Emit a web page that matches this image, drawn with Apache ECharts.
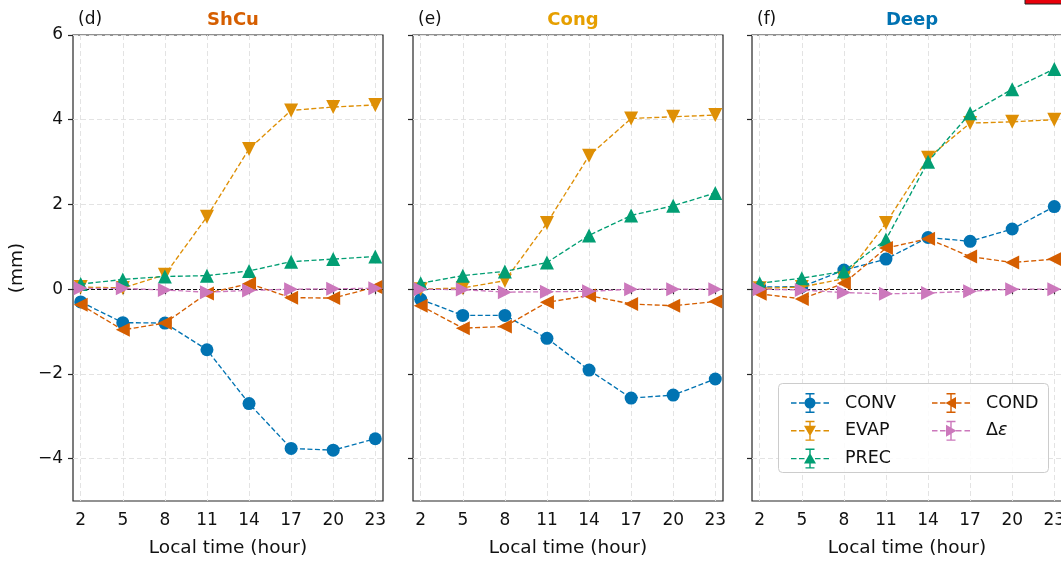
<!DOCTYPE html>
<html><head><meta charset="utf-8">
<script src="https://cdn.jsdelivr.net/npm/echarts@6/dist/echarts.min.js"></script>
<style>html,body{margin:0;padding:0;background:#fff}#c{width:1061px;height:562px}</style>
</head><body><div id="c"></div>
<script>
const hours = [2, 5, 8, 11, 14, 17, 20, 23];
const xTicks = [2, 5, 8, 11, 14, 17, 20, 23];
const yTicks = [-4, -2, 0, 2, 4, 6];
const seriesNames = ['CONV', 'EVAP', 'PREC', 'COND', 'Δε'];
const panelTitles = ['ShCu', 'Cong', 'Deep'];
const panelLetters = ['(d)', '(e)', '(f)'];

const shcuConv = [-0.30, -0.79, -0.80, -1.43, -2.70, -3.76, -3.80, -3.53];
const shcuEvap = [0.05, 0.03, 0.34, 1.71, 3.31, 4.22, 4.30, 4.35];
const shcuPrec = [0.12, 0.23, 0.30, 0.32, 0.43, 0.65, 0.71, 0.77];
const shcuCond = [-0.37, -0.96, -0.80, -0.10, 0.13, -0.20, -0.21, 0.05];
const shcuDe   = [0.02, 0.02, -0.02, -0.07, -0.03, 0.00, 0.01, 0.02];

const congConv = [-0.24, -0.62, -0.62, -1.16, -1.91, -2.57, -2.50, -2.12];
const congEvap = [0.00, 0.03, 0.20, 1.56, 3.15, 4.03, 4.07, 4.11];
const congPrec = [0.14, 0.32, 0.42, 0.63, 1.27, 1.74, 1.97, 2.27];
const congCond = [-0.39, -0.92, -0.88, -0.31, -0.15, -0.35, -0.39, -0.29];
const congDe   = [0.00, -0.01, -0.07, -0.06, -0.05, 0.00, 0.00, 0.00];

const deepConv = [0.05, 0.06, 0.45, 0.71, 1.22, 1.13, 1.42, 1.95];
const deepEvap = [0.02, 0.05, 0.25, 1.56, 3.10, 3.92, 3.95, 4.00];
const deepPrec = [0.14, 0.26, 0.42, 1.17, 3.01, 4.15, 4.72, 5.20];
const deepCond = [-0.11, -0.23, 0.14, 0.97, 1.19, 0.77, 0.63, 0.71];
const deepDe   = [0.00, -0.02, -0.08, -0.11, -0.09, -0.05, 0.00, 0.00];

const panels = [
  [shcuConv, shcuEvap, shcuPrec, shcuCond, shcuDe],
  [congConv, congEvap, congPrec, congCond, congDe],
  [deepConv, deepEvap, deepPrec, deepCond, deepDe]
];

const colors = ['#0173b2', '#de8f05', '#029e73', '#d55e00', '#cc78bc'];
const titleColors = ['#d55e00', '#e69f00', '#0072b2'];
const symbols = ['circle', 'triangle', 'triangle', 'triangle', 'triangle'];
const rotates = [0, 180, 0, 90, -90];
const sizes = [13, 14, 14, 14, 14];
const FONT = 'DejaVu Sans';
const TXT = '#111';

const lefts = [73, 413, 752];
const W = 310, TOP = 35, H = 466;

function rect(x0, y0, x1, y1) { return `M${x0} ${y0}H${x1}V${y1}H${x0}Z`; }
function iconPath(kind) {
  let p = '';
  [[0, 5.5], [8, 13.5], [16, 21.5], [24, 29.5], [32.5, 38]].forEach(d => { p += rect(d[0], 9.3, d[1], 10.7); });
  p += rect(18.3, 0, 19.7, 20) + rect(14.5, 0, 23.5, 1.4) + rect(14.5, 18.6, 23.5, 20);
  const cx = 19, cy = 10;
  if (kind === 0) { const r = 5.5; p += `M${cx - r} ${cy}A${r} ${r} 0 1 1 ${cx + r} ${cy}A${r} ${r} 0 1 1 ${cx - r} ${cy}Z`; }
  if (kind === 1) p += `M${cx - 6} ${cy - 5}L${cx + 6} ${cy - 5}L${cx} ${cy + 5.5}Z`;
  if (kind === 2) p += `M${cx} ${cy - 5.5}L${cx + 6} ${cy + 5}L${cx - 6} ${cy + 5}Z`;
  if (kind === 3) p += `M${cx - 5.5} ${cy}L${cx + 5} ${cy - 6}L${cx + 5} ${cy + 6}Z`;
  if (kind === 4) p += `M${cx + 5.5} ${cy}L${cx - 5} ${cy + 6}L${cx - 5} ${cy - 6}Z`;
  return 'path://' + p;
}

const grids = [], xAxes = [], yAxes = [], series = [], titles = [];
lefts.forEach((l, gi) => {
  grids.push({ left: l, top: TOP, width: W, height: H, show: true, borderColor: '#262626', borderWidth: 1.2,
    backgroundColor: 'transparent', containLabel: false, outerBoundsMode: 'none' });
  xAxes.push({
    type: 'value', gridIndex: gi, min: 1.45, max: 23.55,
    name: 'Local time (hour)', nameLocation: 'middle', nameGap: 38,
    nameTextStyle: { fontFamily: FONT, fontSize: 18.5, color: TXT },
    axisLine: { show: false },
    axisTick: { show: true, length: 5, customValues: xTicks, lineStyle: { color: '#262626', width: 1.2 } },
    axisLabel: { customValues: xTicks, fontFamily: FONT, fontSize: 17, color: TXT, margin: 11 },
    splitLine: { show: true, lineStyle: { color: '#e3e3e3', type: [5, 3], width: 1 } }
  });
  yAxes.push({
    type: 'value', gridIndex: gi, min: -5, max: 6,
    name: gi === 0 ? '(mm)' : '', nameLocation: 'middle', nameRotate: 90, nameGap: 46,
    nameTextStyle: { fontFamily: FONT, fontSize: 18.5, color: TXT },
    axisLine: { show: false },
    axisTick: { show: true, length: 5, customValues: yTicks, lineStyle: { color: '#262626', width: 1.2 } },
    axisLabel: { show: gi === 0, customValues: yTicks, fontFamily: FONT, fontSize: 17, color: TXT, margin: 10,
      formatter: v => (v < 0 ? '\u2212' + Math.abs(v) : '' + v) },
    splitLine: { show: true, lineStyle: { color: '#e3e3e3', type: [5, 3], width: 1 } }
  });
  titles.push({ text: panelLetters[gi], left: l, top: 6, textStyle: { fontFamily: FONT, fontSize: 17, fontWeight: 'normal', color: TXT } });
  titles.push({ text: panelTitles[gi], left: l + W / 2, top: 6, textAlign: 'center', textStyle: { fontFamily: FONT, fontSize: 18, fontWeight: 'bold', color: titleColors[gi] } });
  panels[gi].forEach((vals, si) => {
    const s = {
      name: seriesNames[si], type: 'line', xAxisIndex: gi, yAxisIndex: gi,
      data: hours.map((h, i) => [h, vals[i]]),
      symbol: symbols[si], symbolRotate: rotates[si], symbolSize: sizes[si],
      showAllSymbol: true, clip: false,
      lineStyle: { color: colors[si], width: 1.35, type: [5, 2.5] },
      itemStyle: { color: colors[si], borderWidth: 0 },
      emphasis: { disabled: true }, animation: false, z: 3 + si
    };
    if (si === 0) {
      s.markLine = { silent: true, symbol: 'none', label: { show: false },
        lineStyle: { color: '#111', type: [4, 2], width: 1.2 },
        data: [{ yAxis: 0 }] };
    }
    series.push(s);
  });
});

const legendCommon = {
  orient: 'vertical', itemWidth: 38, itemHeight: 20, itemGap: 7.8,
  itemStyle: { borderWidth: 0 },
  textStyle: { fontFamily: FONT, fontSize: 17.5, color: TXT, padding: [0, 0, 0, 11],
    rich: { n: { fontFamily: FONT, fontSize: 17.5, color: TXT },
            i: { fontFamily: FONT, fontSize: 17.5, color: TXT, fontStyle: 'italic' } } },
  selectedMode: false, z: 10
};

const option = {
  animation: false,
  title: titles,
  grid: grids, xAxis: xAxes, yAxis: yAxes, series: series,
  legend: [
    Object.assign({}, legendCommon, { left: 786, top: 388,
      data: [0, 1, 2].map(k => ({ name: seriesNames[k], icon: iconPath(k), itemStyle: { color: colors[k] } })) }),
    Object.assign({}, legendCommon, { left: 927, top: 388,
      formatter: n => n === 'Δε' ? '{n|Δ}{i|ε}' : n,
      data: [3, 4].map(k => ({ name: seriesNames[k], icon: iconPath(k), itemStyle: { color: colors[k] } })) })
  ],
  graphic: [
    { type: 'rect', shape: { x: 778.5, y: 383.5, width: 270, height: 89, r: 4 }, style: { fill: 'rgba(255,255,255,0.85)', stroke: '#cccccc', lineWidth: 1 }, z: 5 },
    { type: 'rect', shape: { x: 1025, y: -2, width: 40, height: 6 }, style: { fill: '#e8000b', stroke: '#222', lineWidth: 1 }, z: 20 }
  ]
};

const chart = echarts.init(document.getElementById('c'), null, { renderer: 'canvas' });
chart.setOption(option);
</script></body></html>
